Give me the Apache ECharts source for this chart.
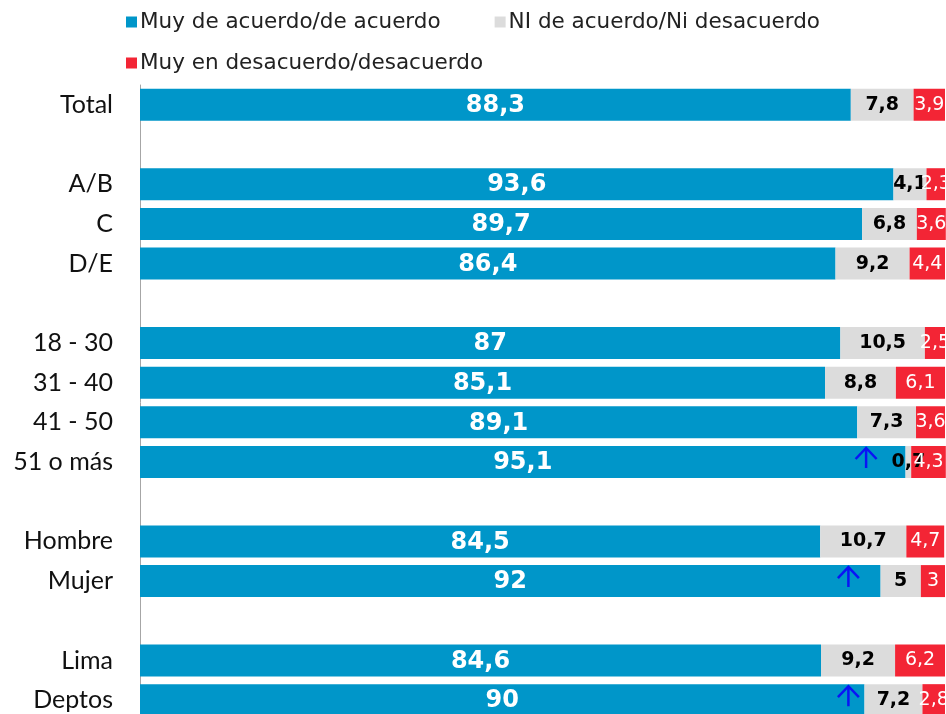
<!DOCTYPE html>
<html>
<head>
<meta charset="utf-8">
<script src="https://cdn.jsdelivr.net/npm/echarts@6/dist/echarts.min.js"></script>
<style>
html,body{margin:0;padding:0;background:#fff;overflow:hidden;}
#chart{width:946px;height:722px;}
</style>
</head>
<body>
<div id="chart"></div>
<script>
const categories = ['Total', ' ', 'A/B', 'C', 'D/E', '  ', '18 - 30', '31 - 40', '41 - 50', '51 o más', '   ', 'Hombre', 'Mujer', '    ', 'Lima', 'Deptos'];
const seriesNames = ['Muy de acuerdo/de acuerdo', 'NI de acuerdo/Ni desacuerdo', 'Muy en desacuerdo/desacuerdo'];
const acuerdo    = [88.3, null, 93.6, 89.7, 86.4, null, 87, 85.1, 89.1, 95.1, null, 84.5, 92, null, 84.6, 90];
const neutral    = [7.8, null, 4.1, 6.8, 9.2, null, 10.5, 8.8, 7.3, 0.7, null, 10.7, 5, null, 9.2, 7.2];
const desacuerdo = [3.9, null, 2.3, 3.6, 4.4, null, 2.5, 6.1, 3.6, 4.3, null, 4.7, 3, null, 6.2, 2.8];
// arrow annotations: [value position, category]
const arrows = [[90.2, '51 o más'], [88, 'Mujer'], [88, 'Deptos']];

const fmt = p => (p.value == null ? '' : String(p.value).replace('.', ','));
const gothic = '"DejaVu Sans", "Verdana", sans-serif';

const chart = echarts.init(document.getElementById('chart'));
chart.setOption({
  animation: false,
  color: ['#0096C9', '#DCDCDC', '#F32535'],
  legend: [
    {
      data: [seriesNames[0], seriesNames[1]],
      left: 121, top: 6, itemWidth: 11, itemHeight: 11, itemGap: 54,
      icon: 'rect', selectedMode: false,
      textStyle: { fontFamily: gothic, fontSize: 21.5, color: '#222', padding: [0, 0, 0, -2] }
    },
    {
      data: [seriesNames[2]],
      left: 121, top: 47, itemWidth: 11, itemHeight: 11,
      icon: 'rect', selectedMode: false,
      textStyle: { fontFamily: gothic, fontSize: 21.5, color: '#222', padding: [0, 0, 0, -2] }
    }
  ],
  grid: { left: 140, right: 1, top: 85, height: 635, containLabel: false },
  xAxis: {
    type: 'value', min: 0, max: 100, show: false
  },
  yAxis: {
    type: 'category', data: categories, inverse: true,
    axisLine: { show: true, lineStyle: { color: '#A6A6A6', width: 1 } },
    axisTick: { show: false },
    axisLabel: { margin: 27, fontFamily: '"Lato", "Open Sans", sans-serif', fontSize: 25, color: '#111' }
  },
  series: [
    {
      name: seriesNames[0], type: 'bar', stack: 'a', data: acuerdo, barWidth: 32,
      label: { show: true, position: 'inside', formatter: fmt, color: '#fff', fontWeight: 'bold', fontSize: 24, fontFamily: gothic, offset: [0, 1] }
    },
    {
      name: seriesNames[1], type: 'bar', stack: 'a', data: neutral, barWidth: 32,
      label: { show: true, position: 'inside', formatter: fmt, color: '#000', fontWeight: 'bold', fontSize: 19, fontFamily: gothic }
    },
    {
      name: seriesNames[2], type: 'bar', stack: 'a', data: desacuerdo, barWidth: 32, clip: false,
      label: { show: true, position: 'inside', formatter: fmt, color: '#fff', fontSize: 19, fontFamily: gothic }
    },
    {
      type: 'scatter', data: arrows, silent: true, z: 5,
      symbol: 'path://M10,0 L10,20 M0,11 L10,0 L20,11',
      symbolSize: [21, 20], symbolOffset: [0, -4],
      itemStyle: { color: 'none', borderColor: '#0A14F5', borderWidth: 2.4, opacity: 1 }
    }
  ]
});
</script>
</body>
</html>
